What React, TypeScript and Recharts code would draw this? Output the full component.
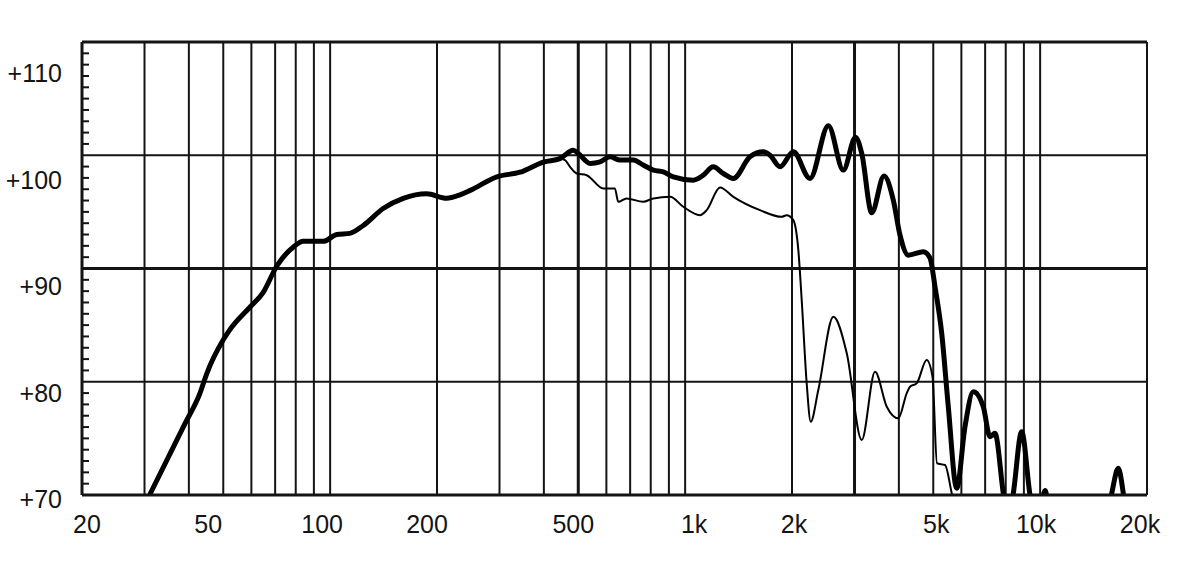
import React from 'react';
import {
  LineChart,
  Line,
  XAxis,
  YAxis,
  ReferenceLine,
} from 'recharts';

// frequency response: shared low band, then on-axis (thick) and off-axis (thin)
const sharedFreq = [31, 39, 43, 44.9, 50, 52.2, 59.5, 64.8, 70.7, 78.8, 84, 95.7, 104.4, 113.7, 124, 141, 160.7, 187, 213, 232, 248, 295, 343, 399, 444];
const sharedDb = [70, 76.3, 79.0, 80.7, 83.7, 84.6, 86.6, 87.9, 90.2, 91.9, 92.4, 92.4, 93.0, 93.1, 93.8, 95.3, 96.2, 96.6, 96.2, 96.5, 96.9, 98.1, 98.5, 99.4, 99.7];

const mainFreq = [484, 500, 540, 576, 614, 656, 715, 762, 814, 868, 926, 1054, 1125, 1200, 1281, 1367, 1523, 1661, 1734, 1851, 2017, 2248, 2532, 2790, 3020, 3144, 3354, 3632, 3858, 4030, 4253, 4689, 4896, 5057, 5282, 5512, 5821, 6142, 6482, 6917, 7224, 7462, 7874, 8120, 8404, 8872, 9364, 9796, 10324, 10850, 15000, 15910, 16600, 17150, 17800];
const mainDb = [100.45, 100.16, 99.28, 99.42, 99.86, 99.57, 99.57, 99.13, 98.69, 98.54, 98.09, 97.8, 98.24, 98.98, 98.39, 97.95, 99.86, 100.3, 100.01, 98.98, 100.3, 97.95, 102.6, 98.69, 101.6, 100.16, 94.93, 98.16, 96.04, 92.95, 91.18, 91.47, 90.92, 88.38, 84.27, 77.79, 70.6, 76.03, 79.12, 77.79, 75.15, 75.45, 70.15, 67.5, 70.15, 75.59, 70, 67, 70.4, 66, 66, 70.15, 72.36, 70.15, 66];

const offFreq = [459, 474, 495, 528, 588, 634, 648, 684, 762, 814, 907, 988, 1101, 1150, 1254, 1367, 1625, 1871, 1932, 2017, 2084, 2130, 2200, 2258, 2372, 2615, 2853, 3144, 3427, 3698, 3986, 4208, 4300, 4491, 4790, 4975, 5122, 5395, 5636, 6000];
const offDb = [99.57, 98.98, 98.39, 98.24, 97.07, 97.07, 95.89, 96.19, 95.89, 96.19, 96.33, 95.45, 94.71, 95.15, 97.16, 96.33, 95.15, 94.56, 94.71, 94.27, 91.62, 87.21, 79.86, 76.47, 79.27, 85.74, 82.51, 74.85, 80.88, 77.79, 76.77, 78.98, 79.56, 79.86, 81.92, 80.44, 72.8, 72.65, 70.15, 66];

const xTicks = [20, 50, 100, 200, 500, 1000, 2000, 5000, 10000, 20000];
const xLabels = ['20', '50', '100', '200', '500', '1k', '2k', '5k', '10k', '20k'];
// every dB gets a short dash; only the tens get a label
const yTicks = Array.from({ length: 41 }, (_, i) => 70 + i);
const gridFreqs = [30, 40, 50, 60, 70, 80, 90, 100, 200, 300, 400, 500, 600, 700, 800, 900, 1000, 2000, 3000, 4000, 5000, 6000, 7000, 8000, 9000, 10000];
const boldFreqs = [500, 3000];
const gridDb = [80, 90, 100];

const toPoints = (f: number[], v: number[]) => f.map((x, i) => ({ f: x, db: v[i] }));
const mainData = toPoints([...sharedFreq, ...mainFreq], [...sharedDb, ...mainDb]);
const offData = toPoints([...sharedFreq, ...offFreq], [...sharedDb, ...offDb]);

const FONT = '"Liberation Sans", Arial, sans-serif';
const INK = '#141414';
const Y_MARGIN = 20;

// labels in the original sit slightly off their gridlines
const xLabelShift: Record<number, number> = {
  20: 5, 50: -15, 100: -8, 200: -10, 500: -5, 1000: 9, 2000: 2, 5000: 3, 10000: -4, 20000: -7,
};

const XTick = ({ x, y, payload }: any) => (
  <text x={x + (xLabelShift[payload.value] ?? 0)} y={y + 18} textAnchor="middle" fontSize={25} fontFamily={FONT} fill={INK}>
    {xLabels[xTicks.indexOf(payload.value)]}
  </text>
);

const YTick = ({ x, y, payload }: any) => {
  const v = payload.value;
  const labelled = v % 10 === 0;
  return (
    <g>
      {v > 70 && v < 110 && v % 10 !== 0 && (
        <line x1={x + Y_MARGIN} x2={x + Y_MARGIN + 7} y1={y} y2={y} stroke={INK} strokeWidth={2} />
      )}
      {labelled && (
        <text x={x} y={y + 13 + (v - 70) * 0.68} textAnchor="end" fontSize={25} fontFamily={FONT} fill={INK}>
          {`+${v}`}
        </text>
      )}
    </g>
  );
};

export default function App() {
  return (
    <div style={{ position: 'absolute', left: 0, top: 0, background: '#fff' }}>
      <LineChart width={1200} height={572} margin={{ top: 42, right: 53, bottom: 0, left: 0 }}>
        <XAxis
          dataKey="f"
          type="number"
          scale="log"
          domain={[20, 20000]}
          allowDataOverflow
          ticks={xTicks}
          interval={0}
          tick={<XTick />}
          tickLine={false}
          tickSize={0}
          tickMargin={20}
          height={77}
          axisLine={{ stroke: INK, strokeWidth: 3 }}
        />
        <YAxis
          type="number"
          domain={[70, 110]}
          allowDataOverflow
          ticks={yTicks}
          interval={0}
          tick={<YTick />}
          tickLine={false}
          tickSize={0}
          tickMargin={Y_MARGIN}
          width={82}
          axisLine={{ stroke: INK, strokeWidth: 3 }}
        />
        {gridFreqs.map((f) => (
          <ReferenceLine key={`v${f}`} x={f} stroke={INK} strokeWidth={boldFreqs.includes(f) ? 3 : 2} />
        ))}
        {gridDb.map((d) => (
          <ReferenceLine key={`h${d}`} y={d} stroke={INK} strokeWidth={d === 90 ? 3 : 2} />
        ))}
        <ReferenceLine y={110} stroke={INK} strokeWidth={3} />
        <ReferenceLine x={20000} stroke={INK} strokeWidth={2} />
        <Line
          data={offData}
          dataKey="db"
          type="monotone"
          stroke="#000"
          strokeWidth={2}
          dot={false}
          isAnimationActive={false}
        />
        <Line
          data={mainData}
          dataKey="db"
          type="monotone"
          stroke="#000"
          strokeWidth={5}
          strokeLinejoin="round"
          strokeLinecap="round"
          dot={false}
          isAnimationActive={false}
        />
      </LineChart>
    </div>
  );
}
